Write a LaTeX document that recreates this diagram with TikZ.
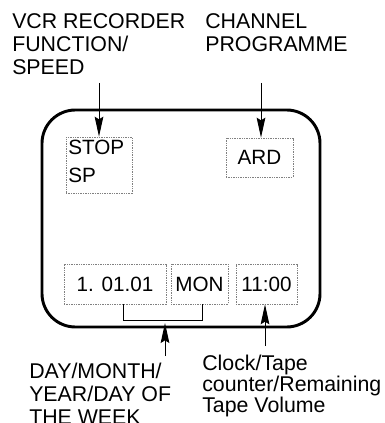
\documentclass[tikz,border=0pt]{standalone}
\usepackage{fontspec}
\setmainfont{Liberation Sans}
\usetikzlibrary{arrows.meta}

\tikzset{
  lcdbox/.style={draw=gray,dash pattern=on 1pt off 0.8pt,line width=0.5pt,inner sep=0pt,font=\fontsize{15.5}{18}\selectfont},
  pointer/.style={-{Stealth[length=15pt,width=6.5pt,inset=2pt]},line width=0.75pt},
  callout/.style={anchor=north west,align=left,inner sep=0pt}
}

\begin{document}
\begin{tikzpicture}[x=0.75pt,y=-0.75pt]
      \useasboundingbox (0,0) rectangle (384,423);

      % screen
      \node[draw,line width=2.2pt,rounded corners=25pt,minimum width=208.5pt,minimum height=162.75pt] (screen) at (181,218.5) {};

      \node[lcdbox,minimum width=49.5pt,minimum height=42pt] (stopbox) at (99,165) {};
      	\node[callout,font=\fontsize{15.5}{21}\selectfont] (stoptext) at (68,140) {STOP\\SP};
      \node[lcdbox,minimum width=50.25pt,minimum height=29.25pt] (ardbox) at (259.5,157.5) {ARD};

      \node[lcdbox,minimum width=76.5pt,minimum height=30pt] (datebox) at (115,284) {1. 01.01};
      \node[lcdbox,minimum width=42.75pt,minimum height=30pt] (daybox) at (199.5,284) {MON};
      \node[lcdbox,minimum width=45.75pt,minimum height=30pt] (clockbox) at (266.5,284) {11:00};

      % labels
      \node[callout,font=\fontsize{16}{17.25}\selectfont] (vcrlabel) at (12,13) {VCR RECORDER\\FUNCTION/\\SPEED};
      \node[callout,font=\fontsize{16}{17.25}\selectfont] (chlabel) at (205,13) {CHANNEL\\PROGRAMME};
      \node[callout,font=\fontsize{16}{17}\selectfont] (datelabel) at (29,363) {DAY/MONTH/\\YEAR/DAY OF\\THE WEEK};
      \node[callout,font=\fontsize{16}{15.5}\selectfont] (clocklabel) at (202,355) {Clock/Tape\\counter/Remaining\\Tape Volume};

      % arrows
      \coordinate (vcrtail) at (99,83);
      \draw[pointer] (vcrtail) -- (stopbox.north);
      \coordinate (chtail) at (261,83);
      \draw[pointer] (chtail) -- (chtail |- ardbox.north);

      \draw[line width=0.75pt] ([xshift=6pt]datebox.south) -- ++(0,16) -| ([xshift=2pt]daybox.south);
      \coordinate (dmtail) at (165,356);
      \draw[pointer] (dmtail) -- (165,323);
      \coordinate (cltail) at (265,346);
      \draw[pointer] (cltail) -- (cltail |- clockbox.south);

\end{tikzpicture}
\end{document}
